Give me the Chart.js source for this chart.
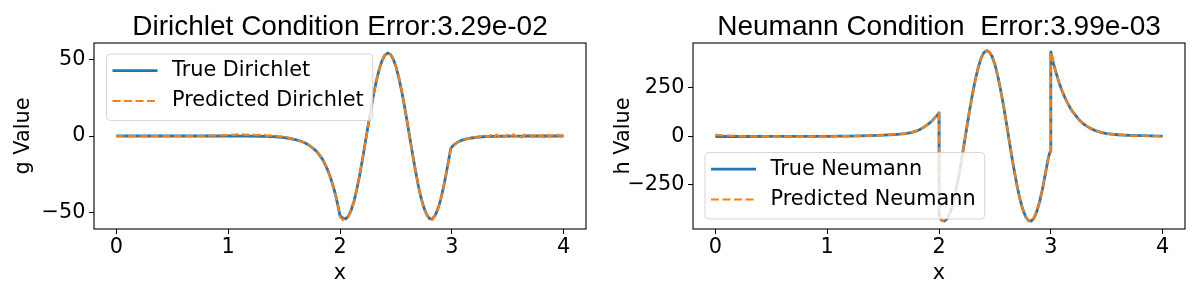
<!DOCTYPE html>
<html>
<head>
<meta charset="utf-8">
<script src="https://cdn.jsdelivr.net/npm/chart.js"></script>
<style>
  html, body { margin: 0; padding: 0; background: #fff; }
  .wrap { position: absolute; top: 0; width: 600px; height: 300px; }
</style>
</head>
<body>
<div class="wrap" style="left:0"><canvas id="dirichletChart" width="600" height="300"></canvas></div>
<div class="wrap" style="left:600px"><canvas id="neumannChart" width="600" height="300"></canvas></div>
<script>
// sample points along x for the Dirichlet panel
const xD = [0, 0.25, 0.5, 0.75,
  1, 1.025, 1.05, 1.075, 1.1, 1.125, 1.15, 1.175, 1.2, 1.225, 1.25, 1.275, 1.3, 1.325, 1.35, 1.375,
  1.4, 1.425, 1.45, 1.475, 1.5, 1.525, 1.55, 1.575, 1.6, 1.625, 1.65, 1.675, 1.7, 1.725, 1.75, 1.775,
  1.8, 1.825, 1.85, 1.875, 1.9, 1.925, 1.95, 1.975,
  2, 2.025, 2.05, 2.075, 2.1, 2.125, 2.15, 2.175, 2.2, 2.225, 2.25, 2.275, 2.3, 2.325, 2.35, 2.375,
  2.4, 2.425, 2.45, 2.475, 2.5, 2.525, 2.55, 2.575, 2.6, 2.625, 2.65, 2.675, 2.7, 2.725, 2.75, 2.775,
  2.8, 2.825, 2.85, 2.875, 2.9, 2.925, 2.95, 2.975, 2.99,
  3, 3.025, 3.05, 3.075, 3.1, 3.125, 3.15, 3.175, 3.2, 3.225, 3.25, 3.275, 3.3, 3.325, 3.35, 3.375,
  3.4, 3.425, 3.45, 3.475, 3.5, 3.525, 3.55, 3.575, 3.6, 3.625, 3.65, 3.675, 3.7, 3.725, 3.75, 3.775,
  3.8, 3.825, 3.85, 3.875, 3.9, 3.925, 3.95, 3.975, 4];

const gTrue = [0, 0, 0, 0,
  0, 0, 0, 0, -0.05, -0.05, -0.05, -0.1, -0.1, -0.1, -0.15, -0.15, -0.2, -0.25, -0.3, -0.35,
  -0.4, -0.5, -0.65, -0.8, -1.0, -1.3, -1.6, -2.0, -2.4, -2.9, -3.4, -4.1, -5.0, -6.1, -7.5, -9.0,
  -10.8, -13.2, -16.0, -19.7, -24.0, -29.3, -35.5, -43.0,
  -51.8, -53.4, -53.9, -52.2, -48.3, -42.5, -34.8, -25.8, -15.6, -4.8, 6.2, 16.9, 26.9, 35.7, 43.2, 48.9,
  52.5, 54.0, 53.2, 50.3, 45.3, 38.2, 29.7, 20.1, 9.6, -1.3, -12.2, -22.6, -32.0, -40.3, -46.6, -51.1,
  -53.7, -53.9, -51.8, -47.6, -41.5, -33.5, -24.2, -14.5, -8.3,
  -7.2, -5.4, -4.1, -3.2, -2.5, -2.0, -1.6, -1.3, -1.0, -0.8, -0.65, -0.5, -0.4, -0.35, -0.3, -0.25,
  -0.2, -0.15, -0.15, -0.1, -0.1, -0.1, -0.1, -0.05, -0.05, -0.05, -0.05, 0, 0, 0, 0, 0,
  0, 0, 0, 0, 0, 0, 0, 0, 0];

const gPred = [0, 0, 0, 0,
  0.6, 1.2, 0.5, 1.1, 0.7, 1.3, 0.6, 0.9, 0.3, 1.0, 0.4, 0.8, 0.2, 0.7, 0.1, 0.4,
  -0.2, 0.3, -0.4, -0.3, -0.8, -0.7, -1.5, -1.6, -2.5, -2.6, -3.6, -3.9, -5.3, -5.8, -7.8, -8.6,
  -11.2, -12.8, -16.4, -19.2, -24.5, -29.0, -36.0, -42.6,
  -52.5, -54.6, -53.3, -52.4, -48.1, -42.8, -34.6, -26.0, -15.4, -5.0, 6.4, 16.7, 27.1, 35.5, 43.4, 48.7,
  52.7, 54.2, 53.0, 50.5, 45.1, 38.4, 29.5, 20.3, 9.4, -1.1, -12.4, -22.4, -32.2, -40.1, -46.8, -50.9,
  -53.9, -54.6, -51.6, -47.8, -41.3, -33.7, -24.0, -14.7, -8.5,
  -7.0, -5.6, -3.9, -3.4, -2.3, -2.2, -1.3, -1.6, -0.6, -1.1, -0.2, -0.9, 0.3, -0.6, 0.6, -0.8,
  0.9, -0.5, 1.1, -0.7, 0.8, -0.9, 1.0, -0.4, 0.7, -1.0, 0.9, -0.3, 0.6, -0.8, 1.0, -0.5,
  0.7, -0.9, 0.8, -0.4, 0.6, -0.7, 0.9, -0.3, 0.4];

// sample points along x for the Neumann panel
const xN = [0, 0.25, 0.5, 0.75, 1, 1.1, 1.2, 1.3, 1.4, 1.5, 1.55, 1.6, 1.65, 1.7, 1.75, 1.8,
  1.825, 1.85, 1.875, 1.9, 1.925, 1.95, 1.975, 1.99, 2, 2.001,
  2.025, 2.05, 2.075, 2.1, 2.125, 2.15, 2.175, 2.2, 2.225, 2.25, 2.275, 2.3, 2.325, 2.35, 2.375,
  2.4, 2.425, 2.45, 2.475, 2.5, 2.525, 2.55, 2.575, 2.6, 2.625, 2.65, 2.675, 2.7, 2.725, 2.75, 2.775,
  2.8, 2.825, 2.85, 2.875, 2.9, 2.925, 2.95, 2.975, 2.99, 2.999,
  3, 3.025, 3.05, 3.075, 3.1, 3.125, 3.15, 3.175, 3.2, 3.25, 3.3, 3.35, 3.4, 3.45, 3.5,
  3.6, 3.7, 3.8, 3.9, 4];

const hTrue = [0, 0, 0.2, 0.5, 1, 1.5, 2.2, 3, 4.5, 6.5, 8, 10, 12, 14.5, 20, 29,
  35, 43, 52, 62, 74, 88, 104, 114, 121, -410,
  -433, -436, -423, -392, -345, -282, -210, -127, -39, 51, 139, 221, 293, 354, 401,
  431, 443, 436, 412, 371, 313, 244, 165, 79, -11, -99, -183, -259, -326, -377, -414,
  -434, -436, -420, -386, -336, -272, -196, -118, -84, -78,
  436, 375, 322, 276, 236, 202, 172, 146, 124, 88, 61, 43, 30, 21, 15,
  9, 6, 4, 3, 2];

const hPred = [8, 1, 0.5, 0.8, 1.2, 1.6, 2.1, 3.2, 4.4, 6.7, 7.8, 10.3, 12.2, 14.8, 19.7, 29.4,
  34.6, 43.3, 51.7, 62.4, 73.6, 88.5, 103.4, 114.6, 120.3, -409,
  -434, -435, -424, -391, -346, -281, -211, -126, -40, 52, 138, 222, 292, 355, 400,
  432, 442, 437, 411, 372, 312, 245, 164, 80, -12, -98, -184, -258, -327, -376, -415,
  -433, -437, -419, -387, -335, -273, -195, -119, -83, -79,
  435, 376, 321, 277, 235, 203, 171, 147, 123, 89, 60, 44, 29, 22, 14,
  10, 5, 4, 2, 2];

const xTicks = [0, 1, 2, 3, 4];
const gTicks = [-50, 0, 50];
const hTicks = [-250, 0, 250];

const BLUE = '#1f77b4';
const ORANGE = '#ff7f0e';
const DV = 'DejaVu Sans';
const FS = 20.8;

function pts(xs, ys) {
  return xs.map((x, i) => ({ x: x, y: ys[i] }));
}

function minusSign(v) {
  return String(v).replace('-', '\u2212');
}

// matplotlib style box around the plotting area
const framePlugin = {
  id: 'frame',
  afterDraw(chart) {
    const a = chart.chartArea;
    const ctx = chart.ctx;
    ctx.save();
    ctx.strokeStyle = '#000';
    ctx.lineWidth = 1.1;
    ctx.strokeRect(a.left, a.top, a.right - a.left, a.bottom - a.top);
    ctx.restore();
  }
};

// legend drawn on top of the lines, with a translucent frame
const boxLegend = {
  id: 'boxLegend',
  afterDatasetsDraw(chart, args, opts) {
    const ctx = chart.ctx;
    const a = chart.chartArea;
    const sets = chart.data.datasets;
    ctx.save();
    ctx.font = FS + 'px "' + DV + '"';
    let w = 0;
    sets.forEach(d => { w = Math.max(w, ctx.measureText(d.label).width); });
    const bw = 65.5 + w + 9;
    const bh = 66.5;
    const bx = a.left + opts.dx;
    const by = opts.anchor === 'top' ? a.top + opts.dy : a.bottom - opts.dy - bh;
    ctx.beginPath();
    ctx.roundRect(bx, by, bw, bh, 4);
    ctx.fillStyle = 'rgba(255,255,255,0.8)';
    ctx.fill();
    ctx.strokeStyle = 'rgba(204,204,204,0.8)';
    ctx.lineWidth = 1;
    ctx.stroke();
    sets.forEach((d, i) => {
      const y = by + 16.7 + i * 30.3;
      ctx.beginPath();
      ctx.setLineDash(d.borderDash || []);
      ctx.strokeStyle = d.borderColor;
      ctx.lineWidth = d.borderWidth;
      ctx.moveTo(bx + 6, y);
      ctx.lineTo(bx + 51, y);
      ctx.stroke();
      ctx.setLineDash([]);
      ctx.fillStyle = '#000';
      ctx.textBaseline = 'middle';
      ctx.textAlign = 'left';
      ctx.fillText(d.label, bx + 65.5, y);
    });
    ctx.restore();
  }
};

function makeChart(id, c) {
  return new Chart(document.getElementById(id), {
    type: 'line',
    data: {
      datasets: [
        { label: c.trueLabel, data: pts(c.xs, c.yTrue), borderColor: BLUE, borderWidth: 2.8,
          pointRadius: 0, borderJoinStyle: 'round', tension: 0, order: 2 },
        { label: c.predLabel, data: pts(c.xs, c.yPred), borderColor: ORANGE, borderWidth: 2.2,
          borderDash: [8, 3.5], pointRadius: 0, borderJoinStyle: 'round', tension: 0, order: 1 }
      ]
    },
    options: {
      responsive: false,
      animation: false,
      events: [],
      layout: { padding: { left: 0, right: c.padRight, top: 0, bottom: 0 } },
      scales: {
        x: {
          type: 'linear', min: -0.2, max: 4.2,
          afterBuildTicks: s => { s.ticks = xTicks.map(v => ({ value: v })); },
          afterFit: s => { s.height = 71; },
          ticks: { color: '#000', font: { family: DV, size: FS }, padding: 1, maxRotation: 0 },
          grid: { drawOnChartArea: false, tickLength: 5, color: '#000', lineWidth: 1 },
          border: { display: false },
          title: { display: true, text: 'x', color: '#000', font: { family: DV, size: FS },
                   padding: { top: 0, bottom: 14 } }
        },
        y: {
          min: c.yMin, max: c.yMax,
          afterBuildTicks: s => { s.ticks = c.yTicks.map(v => ({ value: v })); },
          afterFit: s => { s.width = c.axisLeft; },
          ticks: { color: '#000', font: { family: DV, size: FS }, padding: 3.5,
                   callback: v => minusSign(v) },
          grid: { drawOnChartArea: false, tickLength: 5, color: '#000', lineWidth: 1 },
          border: { display: false },
          title: { display: true, text: c.yTitle, color: '#000', font: { family: DV, size: FS },
                   padding: { top: 11, bottom: 0 } }
        }
      },
      plugins: {
        legend: { display: false },
        tooltip: { enabled: false },
        title: {
          display: true, text: c.title, fullSize: false, color: '#000',
          font: { family: 'Liberation Sans', size: 28, weight: 'normal', lineHeight: 1 },
          padding: { top: 13, bottom: 2 }
        },
        boxLegend: c.legend
      }
    },
    plugins: [boxLegend, framePlugin]
  });
}

makeChart('dirichletChart', {
  title: 'Dirichlet Condition Error:3.29e-02',
  trueLabel: 'True Dirichlet', predLabel: 'Predicted Dirichlet',
  xs: xD, yTrue: gTrue, yPred: gPred,
  yMin: -60.5, yMax: 60.5, yTicks: gTicks, yTitle: 'g Value',
  axisLeft: 94, padRight: 14,
  legend: { dx: 12.5, dy: 11, anchor: 'top' }
});

makeChart('neumannChart', {
  title: 'Neumann Condition  Error:3.99e-03',
  trueLabel: 'True Neumann', predLabel: 'Predicted Neumann',
  xs: xN, yTrue: hTrue, yPred: hPred,
  yMin: -477, yMax: 482, yTicks: hTicks, yTitle: 'h Value',
  axisLeft: 93, padRight: 15,
  legend: { dx: 12, dy: 10, anchor: 'bottom' }
});
</script>
</body>
</html>
